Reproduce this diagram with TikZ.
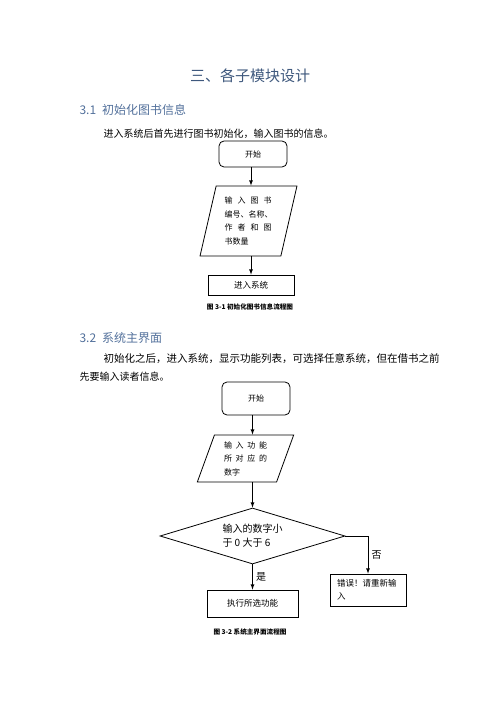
\documentclass[tikz,border=0pt]{standalone}
\usepackage{fontspec}
\setmainfont{Noto Sans CJK SC}
\usetikzlibrary{shapes.geometric}
\usepgflibrary{arrows}
\definecolor{headblue}{RGB}{62,88,125}
\definecolor{secblue}{RGB}{82,112,155}
\newcommand{\fillrow}[2][47pt]{\makebox[#1][s]{#2}}

\tikzset{
  flow/.style={draw, line width=0.8pt, inner sep=0pt},
  startbox/.style={flow, rounded corners=5pt, minimum width=68pt,
    minimum height=26pt, font=\fontsize{8}{10}\selectfont},
  iobox/.style={flow, trapezium, trapezium stretches=true,
    minimum width=97pt, align=left, font=\fontsize{8}{13.5}\selectfont},
  procbox/.style={flow, minimum width=86pt, minimum height=20pt,
    font=\fontsize{8.5}{10}\selectfont},
  captext/.style={font=\fontsize{6.6}{8}\selectfont\bfseries},
  arr/.style={-latex, line width=0.8pt},
}

\begin{document}
\begin{tikzpicture}[x=1pt,y=-1pt]
  \useasboundingbox (0,0) rectangle (500,708);
  % headings and text
  \node[headblue, font=\fontsize{15}{18}\selectfont] (t) at (250,76) {三、各子模块设计};
  \node[secblue, anchor=west, font=\fontsize{12}{14}\selectfont] (h1) at (76,110)
    {3.1\hspace{6pt}初始化图书信息};
  \node[anchor=west, font=\fontsize{10}{12}\selectfont] (p1) at (100,134)
    {进入系统后首先进行图书初始化，输入图书的信息。};

  % chart 3-1
  \node[startbox] (s1) at (253,154) {开始};
  \node[iobox, trapezium left angle=76, trapezium right angle=104,
    minimum height=70pt] (io1) at (248.5,221)
    {\fillrow{输 入 图 书}\\编号、名称、\\\fillrow{作 者 和 图}\\书数量};
  \node[procbox] (b1) at (251,285) {进入系统};
  \node[captext] (c1) at (250,307) {图 3-1 初始化图书信息流程图};
  \draw[arr] (s1.south -| b1) -- (io1.north -| b1);
  \draw[arr] (io1.south -| b1) -- (b1);

  \node[secblue, anchor=west, font=\fontsize{12}{14}\selectfont] (h2) at (76,338)
    {3.2\hspace{6pt}系统主界面};
  \node[anchor=west, font=\fontsize{10.5}{12}\selectfont] (p2) at (100,359)
    {初始化之后，进入系统，显示功能列表，可选择任意系统，但在借书之前};
  \node[anchor=west, font=\fontsize{10}{12}\selectfont] (p3) at (76,377)
    {先要输入读者信息。};

  % chart 3-2
  \node[startbox, minimum height=33pt] (s2) at (256,398.5) {开始};
  \node[iobox, trapezium left angle=71, trapezium right angle=109,
    minimum height=47pt] (io2) at (245.5,458.5)
    {\fillrow[43pt]{输 入 功 能}\\\fillrow[43pt]{所 对 应 的}\\数字};
  \node[flow, diamond, aspect=3.3, minimum width=185pt, minimum height=56pt,
    align=left, font=\fontsize{10}{14}\selectfont] (d2) at (252.5,536)
    {输入的数字小\\于 0 大于 6};
  \node[procbox, minimum width=91pt, minimum height=27pt] (b2) at (252.5,603.5) {执行所选功能};
  \node[flow, minimum width=76pt, minimum height=32pt, text width=62pt,
    align=left, font=\fontsize{8.5}{13}\selectfont] (e2) at (368,590)
    {错误！请重新输\\入};
  \node[captext] (c2) at (250,632) {图 3-2 系统主界面流程图};
  \draw[arr] (s2.south -| d2) -- (io2.north -| d2);
  \draw[arr] (io2.south -| d2) -- (d2);
  \draw[arr] (d2) -- (b2) node[midway, right, font=\fontsize{10}{12}\selectfont] {是};
  \draw[arr] (d2) -| (e2) node[pos=.75, right, font=\fontsize{10}{12}\selectfont] {否};
\end{tikzpicture}
\end{document}
